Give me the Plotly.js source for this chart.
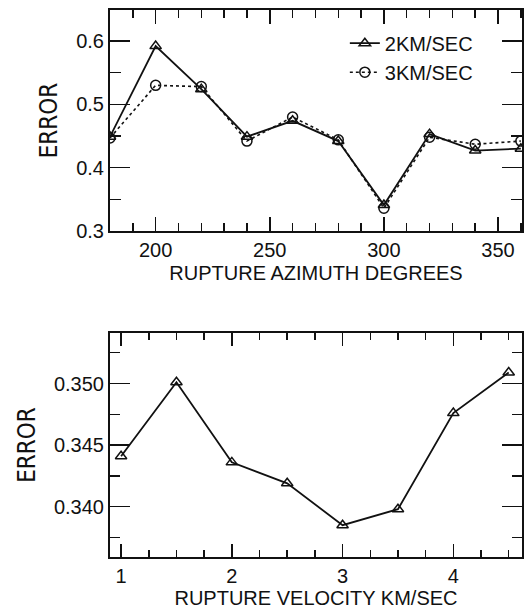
<!DOCTYPE html>
<html>
<head>
<meta charset="utf-8">
<script src="https://cdn.plot.ly/plotly-3.0.1.min.js"></script>
<style>html,body{margin:0;padding:0;background:#fff;}#chart{width:529px;height:611px;}</style>
</head>
<body>
<div id="chart"></div>
<script>
// Top panel: rupture azimuth (degrees)
const azimuth = [180, 200, 220, 240, 260, 280, 300, 320, 340, 360];
const error2km = [0.449, 0.592, 0.524, 0.449, 0.474, 0.442, 0.341, 0.453, 0.427, 0.430];
const error3km = [0.447, 0.530, 0.528, 0.442, 0.480, 0.444, 0.336, 0.448, 0.437, 0.442];
const seriesNames = ['2KM/SEC', '3KM/SEC'];

// Bottom panel: rupture velocity (km/sec)
const velocity = [1, 1.5, 2, 2.5, 3, 3.5, 4, 4.5];
const errorVel = [0.3441, 0.3501, 0.3436, 0.3419, 0.3385, 0.3398, 0.3476, 0.3509];

const tickFont = {family: 'Liberation Sans, Arial, sans-serif', size: 20, color: '#111'};
const titleFont = {family: 'Liberation Sans, Arial, sans-serif', size: 20, color: '#111'};
const yTitleFont = {family: 'Liberation Sans Narrow, DejaVu Sans Condensed, sans-serif', size: 24, color: '#111'};

const traces = [
  {x: azimuth, y: error2km, name: seriesNames[0], mode: 'lines+markers', xaxis: 'x', yaxis: 'y',
   line: {color: '#111', width: 1.8},
   marker: {symbol: 'triangle-up-open', size: 10, color: '#111', line: {width: 1.5}}},
  {x: azimuth, y: error3km, name: seriesNames[1], mode: 'lines+markers', xaxis: 'x', yaxis: 'y',
   line: {color: '#111', width: 1.6, dash: 'dot'},
   marker: {symbol: 'circle-open', size: 10, color: '#111', line: {width: 1.5}}},
  {x: velocity, y: errorVel, name: 'velocity', mode: 'lines+markers', xaxis: 'x2', yaxis: 'y2',
   showlegend: false,
   line: {color: '#111', width: 1.8},
   marker: {symbol: 'triangle-up-open', size: 10, color: '#111', line: {width: 1.5}}}
];

const axisCommon = {
  showline: true, linecolor: '#111', linewidth: 2, mirror: 'ticks',
  ticks: 'inside', tickcolor: '#111', tickwidth: 1.5,
  showgrid: false, zeroline: false, tickfont: tickFont
};

const layout = {
  width: 529, height: 611,
  margin: {l: 110, r: 7, t: 10, b: 54},
  showlegend: true,
  legend: {x: 0.57, y: 0.975, xanchor: 'left', yanchor: 'top', bgcolor: 'rgba(0,0,0,0)',
           font: tickFont, tracegroupgap: 0},
  xaxis: Object.assign({}, axisCommon, {
    anchor: 'y', range: [180, 360.5], dtick: 50, ticklen: 14,
    minor: {dtick: 10, ticklen: 8, tickcolor: '#111', tickwidth: 1.5, ticks: 'inside'},
    title: {text: 'RUPTURE AZIMUTH DEGREES', font: titleFont, standoff: 6}
  }),
  yaxis: Object.assign({}, axisCommon, {
    domain: [0.596, 1], anchor: 'x', range: [0.3, 0.649], dtick: 0.1, ticklen: 20,
    tickformat: '.1f',
    minor: {dtick: 0.05, ticklen: 11, tickcolor: '#111', tickwidth: 1.5, ticks: 'inside'},
    title: {text: 'ERROR', font: yTitleFont, standoff: 12}
  }),
  xaxis2: Object.assign({}, axisCommon, {
    anchor: 'y2', range: [0.9, 4.62], dtick: 1, ticklen: 13,
    minor: {dtick: 0.25, ticklen: 7, tickcolor: '#111', tickwidth: 1.5, ticks: 'inside'},
    title: {text: 'RUPTURE VELOCITY KM/SEC', font: titleFont, standoff: 4}
  }),
  yaxis2: Object.assign({}, axisCommon, {
    domain: [0, 0.4095], anchor: 'x2', range: [0.33592, 0.35410], dtick: 0.005, ticklen: 20,
    tickformat: '.3f',
    minor: {dtick: 0.0025, ticklen: 10, tickcolor: '#111', tickwidth: 1.5, ticks: 'inside'},
    title: {text: 'ERROR', font: yTitleFont, standoff: 12}
  })
};

Plotly.newPlot('chart', traces, layout, {staticPlot: true});
</script>
</body>
</html>
